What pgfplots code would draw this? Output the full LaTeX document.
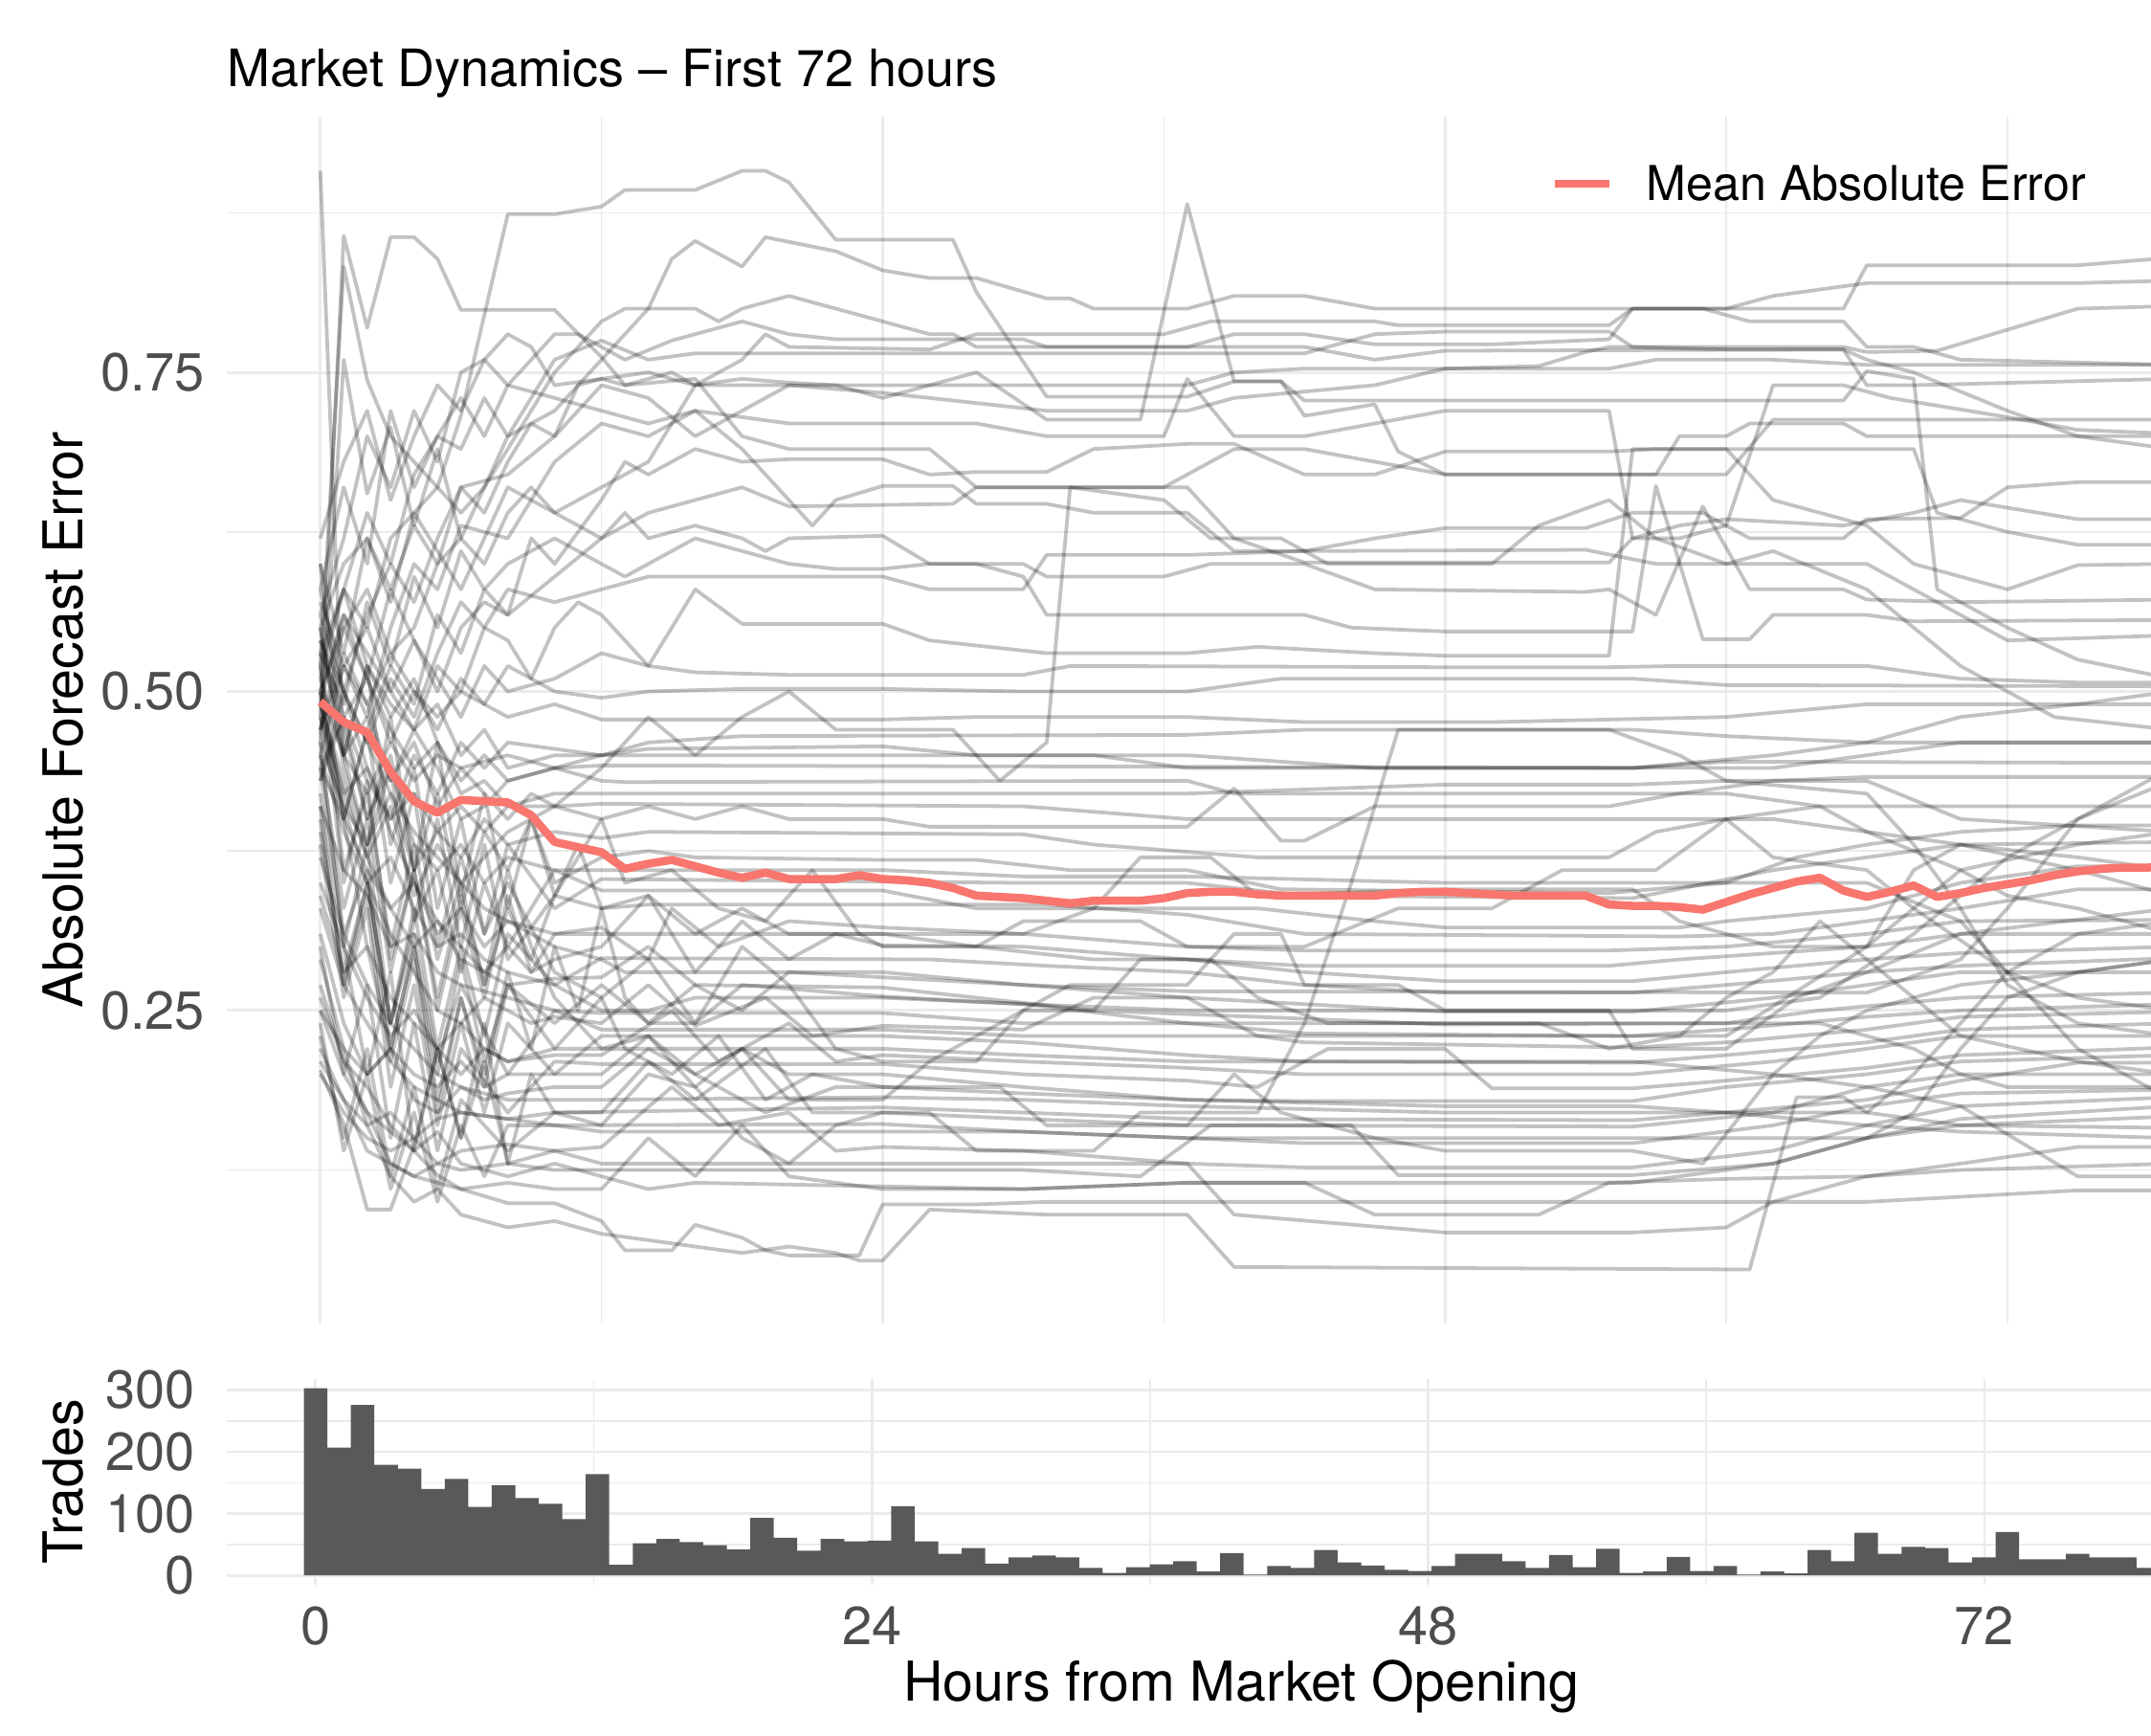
\documentclass[border=0pt]{standalone}
\usepackage{pgfplots}
\pgfplotsset{compat=1.18}
\usepackage{fontspec}
\setmainfont{TeX Gyre Heros}
\definecolor{g30}{HTML}{4D4D4D}
\definecolor{g92}{HTML}{EBEBEB}
\definecolor{barc}{HTML}{595959}
\definecolor{mae}{HTML}{F8766D}
\begin{document}
\begin{tikzpicture}[x=1cm,y=1cm]
\useasboundingbox (0,0) rectangle (15.68,12.65);
\pgfplotsset{
 gl/.style={black, opacity=0.24, line width=0.75pt, line join=round, forget plot},
 base/.style={scale only axis, width=14.03cm, axis line style={draw=none},
   major tick style={draw=none}, minor tick style={draw=none}, grid=both,
   major grid style={g92, line width=0.55pt}, minor grid style={g92, line width=0.3pt},
   tick label style={font=\fontsize{11.1pt}{13pt}\selectfont, text=g30},
   yticklabel style={anchor=east, inner sep=0pt, xshift=-0.15cm},
   xticklabel style={anchor=north, inner sep=0pt, yshift=-0.15cm}},
}
\begin{axis}[base, at={(1.65cm,3.00cm)}, anchor=south west, height=8.80cm,
  xmin=-4.01, xmax=78.13, ymin=0.0043, ymax=0.9505,
  xtick={0,24,48,72}, minor xtick={12,36,60}, xticklabels={},
  ytick={0.25,0.5,0.75}, yticklabels={0.25,0.50,0.75}, minor ytick={0.125,0.375,0.625,0.875}]
% ---- upper group
\addplot[gl] coordinates {(0,0.52)(1,0.58)(2,0.55)(3,0.62)(4,0.64)(5,0.66)(6,0.716)(8,0.874)(10,0.874)(12,0.88)(13,0.893)(16,0.893)(18,0.908)(19,0.908)(20,0.899)(22,0.854)(27,0.854)(28,0.813)(31,0.731)(37,0.731)(39,0.743)(41,0.743)(42,0.728)(65,0.728)(66,0.751)(68,0.745)(69,0.58)(72,0.55)(75,0.525)(79,0.51)};
\addplot[gl] coordinates {(0,0.50)(1,0.55)(2,0.58)(3,0.53)(4,0.55)(5,0.60)(6,0.62)(8,0.70)(10,0.72)(12,0.76)(14,0.80)(15,0.839)(16,0.853)(18,0.833)(19,0.856)(22,0.845)(24,0.83)(26,0.824)(28,0.824)(31,0.808)(32,0.808)(33,0.80)(37,0.80)(39,0.81)(42,0.81)(45,0.80)(65,0.80)(66,0.834)(75,0.834)(79,0.84)};
\addplot[gl] coordinates {(0,0.48)(1,0.857)(2,0.785)(3,0.856)(4,0.856)(5,0.839)(6,0.799)(10,0.799)(12,0.762)(13,0.74)(16,0.745)(18,0.70)(20,0.69)(26,0.69)(28,0.66)(36,0.66)(39,0.69)(42,0.69)(45,0.68)(48,0.67)(57,0.67)(58,0.70)(60,0.70)(61,0.71)(65,0.71)(66,0.70)(79,0.70)};
\addplot[gl] coordinates {(0,0.52)(1,0.833)(2,0.744)(3,0.70)(4,0.68)(5,0.66)(6,0.64)(7,0.66)(8,0.69)(10,0.75)(12,0.79)(13,0.80)(16,0.80)(17,0.79)(18,0.80)(20,0.81)(22,0.80)(24,0.79)(26,0.78)(27,0.78)(28,0.77)(37,0.77)(39,0.78)(42,0.78)(45,0.772)(50,0.772)(55,0.776)(56,0.80)(59,0.80)(61,0.79)(65,0.79)(66,0.77)(68,0.77)(70,0.76)(79,0.756)};
\addplot[gl] coordinates {(0,0.46)(1,0.76)(2,0.655)(3,0.707)(4,0.63)(5,0.69)(6,0.62)(7,0.60)(8,0.64)(9,0.66)(10,0.64)(12,0.66)(14,0.68)(16,0.74)(18,0.76)(19,0.78)(20,0.77)(26,0.768)(28,0.78)(36,0.78)(38,0.79)(45,0.79)(46,0.787)(55,0.787)(56,0.80)(60,0.80)(62,0.81)(66,0.82)(75,0.82)(79,0.822)};
\addplot[gl] coordinates {(0,0.54)(1,0.50)(2,0.56)(3,0.60)(4,0.57)(5,0.62)(6,0.66)(8,0.67)(10,0.70)(11,0.74)(12,0.745)(14,0.75)(16,0.74)(20,0.74)(24,0.734)(31,0.72)(37,0.72)(39,0.73)(45,0.74)(48,0.753)(52,0.755)(54,0.766)(55,0.77)(65,0.77)(66,0.766)(69,0.767)(75,0.80)(79,0.802)};
\addplot[gl] coordinates {(0,0.56)(1,0.62)(2,0.70)(3,0.66)(4,0.72)(5,0.68)(6,0.75)(7,0.76)(8,0.74)(10,0.78)(11,0.78)(12,0.77)(13,0.76)(15,0.775)(16,0.78)(18,0.79)(20,0.78)(22,0.776)(30,0.776)(31,0.77)(42,0.77)(45,0.76)(48,0.767)(65,0.768)(66,0.74)(68,0.74)(79,0.745)};
\addplot[gl] coordinates {(0,0.55)(1,0.60)(2,0.62)(3,0.58)(4,0.63)(5,0.60)(6,0.66)(7,0.64)(8,0.68)(9,0.71)(10,0.70)(12,0.74)(14,0.73)(16,0.70)(18,0.72)(20,0.74)(22,0.74)(24,0.73)(28,0.75)(31,0.713)(35,0.713)(37,0.882)(39,0.743)(41,0.743)(42,0.716)(45,0.725)(46,0.688)(48,0.670)(60,0.670)(62,0.713)(79,0.713)};
\addplot[gl] coordinates {(0,0.45)(1,0.52)(2,0.48)(3,0.55)(4,0.60)(5,0.58)(6,0.63)(8,0.62)(10,0.68)(12,0.71)(14,0.70)(15,0.71)(16,0.72)(18,0.69)(20,0.65)(21,0.63)(22,0.65)(24,0.661)(27,0.661)(28,0.647)(31,0.647)(33,0.64)(37,0.64)(39,0.61)(42,0.61)(45,0.62)(48,0.628)(54,0.628)(56,0.64)(59,0.64)(61,0.62)(65,0.62)(66,0.635)(70,0.636)(72,0.66)(75,0.664)(79,0.664)};
\addplot[gl] coordinates {(0,0.53)(1,0.49)(2,0.57)(3,0.52)(4,0.59)(5,0.55)(6,0.61)(7,0.58)(8,0.60)(10,0.62)(12,0.60)(13,0.59)(14,0.60)(16,0.62)(18,0.61)(20,0.60)(22,0.596)(24,0.596)(26,0.60)(28,0.60)(30,0.59)(31,0.56)(42,0.56)(44,0.55)(48,0.547)(56,0.547)(57,0.661)(59,0.541)(61,0.541)(62,0.56)(66,0.56)(68,0.555)(79,0.556)};
\addplot[gl] coordinates {(0,0.47)(1,0.55)(2,0.51)(3,0.58)(4,0.54)(5,0.50)(6,0.55)(7,0.57)(8,0.56)(10,0.59)(12,0.62)(13,0.64)(14,0.62)(16,0.63)(18,0.62)(19,0.61)(20,0.62)(24,0.622)(26,0.60)(30,0.60)(31,0.59)(36,0.59)(38,0.60)(42,0.60)(45,0.58)(54,0.578)(55,0.58)(57,0.56)(59,0.645)(61,0.58)(65,0.58)(66,0.572)(70,0.57)(79,0.572)};
\addplot[gl] coordinates {(0,0.51)(1,0.58)(2,0.64)(3,0.60)(4,0.67)(5,0.70)(6,0.69)(7,0.73)(8,0.70)(9,0.73)(10,0.76)(12,0.775)(14,0.76)(16,0.765)(42,0.765)(45,0.78)(48,0.782)(55,0.782)(56,0.77)(60,0.768)(65,0.768)(66,0.76)(68,0.75)(72,0.72)(75,0.70)(79,0.69)};
\addplot[gl] coordinates {(0,0.44)(1,0.40)(2,0.47)(3,0.52)(4,0.49)(5,0.56)(6,0.53)(7,0.58)(8,0.56)(9,0.62)(10,0.60)(12,0.65)(13,0.68)(14,0.67)(16,0.69)(18,0.68)(20,0.682)(24,0.682)(26,0.67)(28,0.672)(31,0.672)(33,0.69)(37,0.694)(39,0.694)(42,0.67)(45,0.67)(48,0.688)(55,0.688)(57,0.69)(68,0.69)(69,0.64)(72,0.625)(75,0.615)(79,0.615)};
\addplot[gl] coordinates {(0,0.58)(1,0.66)(2,0.60)(3,0.72)(4,0.66)(5,0.70)(6,0.73)(7,0.70)(8,0.74)(10,0.73)(12,0.72)(14,0.71)(16,0.72)(18,0.715)(20,0.71)(28,0.71)(31,0.70)(36,0.70)(37,0.745)(39,0.70)(42,0.70)(45,0.71)(48,0.72)(55,0.72)(56,0.62)(58,0.62)(60,0.63)(62,0.74)(65,0.74)(67,0.73)(72,0.715)(75,0.705)(79,0.702)};
\addplot[gl] coordinates {(0,0.50)(1,0.45)(2,0.52)(3,0.49)(4,0.47)(5,0.52)(6,0.50)(7,0.55)(8,0.54)(9,0.51)(10,0.55)(11,0.57)(12,0.56)(14,0.52)(16,0.58)(18,0.553)(24,0.553)(26,0.54)(31,0.53)(37,0.53)(40,0.535)(45,0.53)(48,0.528)(55,0.528)(56,0.69)(60,0.69)(62,0.65)(66,0.63)(68,0.60)(72,0.58)(75,0.599)(79,0.60)};
\addplot[gl] coordinates {(0,0.49)(1,0.56)(2,0.53)(3,0.50)(4,0.54)(5,0.51)(6,0.48)(7,0.52)(8,0.50)(10,0.51)(12,0.53)(14,0.52)(16,0.515)(20,0.513)(30,0.513)(32,0.52)(48,0.519)(55,0.519)(58,0.52)(66,0.52)(70,0.51)(75,0.507)(79,0.507)};
\addplot[gl] coordinates {(0,0.54)(1,0.48)(2,0.51)(3,0.46)(4,0.50)(5,0.47)(6,0.51)(7,0.49)(8,0.52)(10,0.50)(12,0.495)(14,0.50)(18,0.502)(24,0.502)(30,0.50)(37,0.50)(41,0.51)(56,0.51)(60,0.505)(79,0.504)};
\addplot[gl] coordinates {(0,0.60)(1,0.53)(2,0.62)(3,0.57)(4,0.64)(5,0.61)(6,0.58)(7,0.62)(8,0.66)(10,0.64)(12,0.62)(14,0.64)(16,0.65)(18,0.66)(20,0.645)(27,0.647)(28,0.66)(37,0.66)(39,0.62)(42,0.601)(55,0.601)(56,0.62)(58,0.63)(60,0.635)(65,0.63)(68,0.64)(70,0.65)(75,0.635)(79,0.635)};
\addplot[gl] coordinates {(0,0.43)(1,0.50)(2,0.46)(3,0.51)(4,0.48)(5,0.53)(6,0.57)(7,0.55)(8,0.58)(10,0.57)(12,0.58)(14,0.59)(24,0.59)(26,0.58)(30,0.58)(31,0.607)(37,0.607)(42,0.61)(54,0.611)(57,0.60)(66,0.60)(68,0.58)(70,0.56)(72,0.54)(79,0.544)};
\addplot[gl] coordinates {(0,0.62)(1,0.68)(2,0.72)(3,0.65)(4,0.70)(5,0.74)(6,0.72)(7,0.76)(8,0.78)(9,0.77)(10,0.74)(12,0.745)(13,0.74)(15,0.75)(16,0.74)(18,0.745)(20,0.742)(22,0.74)(37,0.74)(39,0.75)(42,0.753)(55,0.753)(57,0.76)(62,0.76)(66,0.756)(79,0.756)};
\addplot[gl] coordinates {(0,0.47)(1,0.52)(2,0.49)(3,0.53)(4,0.50)(5,0.48)(6,0.50)(8,0.48)(10,0.49)(12,0.478)(24,0.478)(28,0.48)(37,0.48)(42,0.476)(50,0.476)(60,0.48)(66,0.49)(79,0.49)};
\addplot[gl] coordinates {(0,0.49)(1,0.43)(2,0.37)(3,0.41)(4,0.34)(5,0.38)(6,0.35)(8,0.39)(10,0.41)(12,0.44)(14,0.48)(16,0.45)(18,0.48)(20,0.50)(22,0.47)(27,0.47)(29,0.43)(31,0.46)(32,0.66)(36,0.65)(38,0.62)(41,0.62)(43,0.60)(50,0.60)(52,0.63)(55,0.65)(57,0.62)(60,0.60)(62,0.61)(66,0.58)(70,0.52)(74,0.48)(79,0.47)};
% ---- lower group
\addplot[gl] coordinates {(0,0.908)(1,0.45)(2,0.42)(3,0.46)(4,0.43)(5,0.45)(6,0.44)(8,0.45)(10,0.44)(12,0.45)(14,0.46)(18,0.465)(37,0.466)(42,0.47)(56,0.47)(60,0.465)(66,0.46)(79,0.46)};
\addplot[gl] coordinates {(0,0.48)(1,0.42)(2,0.44)(3,0.40)(4,0.45)(5,0.42)(6,0.46)(7,0.44)(8,0.46)(10,0.455)(12,0.45)(14,0.455)(24,0.457)(28,0.45)(33,0.45)(37,0.44)(56,0.44)(60,0.445)(79,0.444)};
\addplot[gl] coordinates {(0,0.51)(1,0.45)(2,0.48)(3,0.43)(4,0.46)(5,0.41)(6,0.44)(7,0.42)(8,0.40)(9,0.42)(10,0.41)(12,0.40)(14,0.41)(16,0.40)(18,0.41)(20,0.40)(24,0.40)(26,0.394)(37,0.394)(39,0.424)(41,0.383)(42,0.383)(45,0.41)(55,0.41)(58,0.42)(62,0.43)(66,0.433)(79,0.433)};
\addplot[gl] coordinates {(0,0.46)(1,0.41)(2,0.38)(3,0.42)(4,0.36)(5,0.39)(6,0.37)(7,0.40)(8,0.38)(10,0.39)(12,0.385)(14,0.39)(30,0.388)(33,0.38)(40,0.37)(55,0.37)(57,0.39)(60,0.40)(64,0.41)(79,0.41)};
\addplot[gl] coordinates {(0,0.53)(1,0.47)(2,0.40)(3,0.45)(4,0.36)(5,0.42)(6,0.33)(7,0.39)(8,0.36)(9,0.40)(10,0.35)(12,0.37)(14,0.375)(16,0.37)(24,0.368)(28,0.368)(32,0.36)(37,0.36)(41,0.345)(55,0.342)(60,0.35)(63,0.37)(66,0.38)(70,0.39)(75,0.395)(79,0.395)};
\addplot[gl] coordinates {(0,0.50)(1,0.40)(2,0.47)(3,0.35)(4,0.42)(5,0.30)(6,0.37)(7,0.31)(8,0.38)(10,0.33)(12,0.353)(30,0.35)(37,0.35)(42,0.34)(56,0.338)(62,0.36)(66,0.37)(70,0.38)(79,0.382)};
\addplot[gl] coordinates {(0,0.55)(1,0.45)(2,0.38)(3,0.44)(4,0.32)(5,0.36)(6,0.28)(7,0.35)(8,0.30)(10,0.36)(12,0.344)(24,0.344)(28,0.33)(40,0.33)(45,0.32)(48,0.315)(58,0.315)(60,0.32)(66,0.33)(70,0.35)(75,0.363)(79,0.363)};
\addplot[gl] coordinates {(0,0.52)(1,0.36)(2,0.42)(3,0.30)(4,0.38)(5,0.29)(6,0.35)(7,0.27)(8,0.33)(9,0.29)(10,0.34)(12,0.33)(14,0.333)(31,0.333)(37,0.325)(42,0.31)(58,0.308)(62,0.31)(66,0.32)(70,0.33)(75,0.345)(79,0.345)};
\addplot[gl] coordinates {(0,0.47)(1,0.40)(2,0.36)(3,0.33)(4,0.35)(5,0.31)(6,0.33)(7,0.30)(8,0.32)(10,0.31)(12,0.315)(14,0.29)(15,0.33)(17,0.30)(20,0.32)(24,0.315)(30,0.31)(37,0.30)(42,0.297)(55,0.297)(60,0.30)(66,0.31)(70,0.32)(79,0.321)};
\addplot[gl] coordinates {(0,0.45)(1,0.33)(2,0.40)(3,0.28)(4,0.36)(5,0.25)(6,0.33)(7,0.26)(8,0.34)(9,0.28)(10,0.31)(24,0.31)(28,0.30)(33,0.29)(37,0.29)(42,0.285)(55,0.285)(58,0.29)(66,0.30)(70,0.31)(79,0.31)};
\addplot[gl] coordinates {(0,0.49)(1,0.42)(2,0.37)(3,0.33)(4,0.30)(5,0.32)(6,0.29)(7,0.28)(8,0.30)(9,0.28)(10,0.29)(12,0.30)(14,0.34)(16,0.28)(18,0.32)(20,0.29)(22,0.31)(24,0.301)(30,0.30)(37,0.29)(42,0.28)(48,0.273)(56,0.273)(60,0.28)(66,0.29)(70,0.295)(79,0.30)};
\addplot[gl] coordinates {(0,0.42)(1,0.30)(2,0.38)(3,0.24)(4,0.33)(5,0.22)(6,0.30)(7,0.23)(8,0.31)(10,0.27)(12,0.291)(26,0.29)(31,0.285)(37,0.28)(42,0.27)(48,0.264)(56,0.264)(60,0.27)(66,0.28)(70,0.285)(79,0.291)};
\addplot[gl] coordinates {(0,0.56)(1,0.50)(2,0.44)(3,0.39)(4,0.35)(5,0.32)(6,0.30)(7,0.28)(8,0.27)(10,0.275)(12,0.276)(14,0.30)(16,0.27)(18,0.25)(20,0.28)(24,0.276)(30,0.27)(37,0.26)(42,0.255)(48,0.249)(56,0.249)(62,0.26)(66,0.27)(70,0.28)(79,0.28)};
\addplot[gl] coordinates {(0,0.44)(1,0.31)(2,0.36)(3,0.22)(4,0.30)(5,0.20)(6,0.29)(7,0.21)(8,0.27)(10,0.24)(12,0.27)(14,0.24)(16,0.27)(24,0.268)(28,0.26)(33,0.25)(40,0.245)(48,0.239)(60,0.24)(64,0.25)(70,0.26)(79,0.264)};
\addplot[gl] coordinates {(0,0.40)(1,0.27)(2,0.34)(3,0.21)(4,0.29)(5,0.17)(6,0.26)(7,0.19)(8,0.27)(10,0.22)(12,0.26)(14,0.29)(16,0.24)(18,0.27)(24,0.261)(30,0.255)(37,0.24)(42,0.232)(56,0.230)(60,0.235)(66,0.245)(70,0.25)(79,0.255)};
\addplot[gl] coordinates {(0,0.48)(1,0.41)(2,0.35)(3,0.31)(4,0.28)(5,0.25)(6,0.24)(7,0.26)(8,0.25)(9,0.24)(10,0.245)(12,0.24)(14,0.27)(16,0.238)(19,0.26)(21,0.23)(24,0.238)(30,0.235)(33,0.26)(37,0.26)(40,0.23)(42,0.225)(56,0.221)(60,0.225)(66,0.235)(70,0.245)(79,0.249)};
\addplot[gl] coordinates {(0,0.38)(1,0.26)(2,0.33)(3,0.19)(4,0.27)(5,0.16)(6,0.24)(7,0.17)(8,0.24)(10,0.20)(12,0.23)(24,0.230)(30,0.225)(37,0.215)(42,0.21)(56,0.209)(60,0.215)(66,0.225)(70,0.235)(79,0.24)};
\addplot[gl] coordinates {(0,0.34)(1,0.28)(2,0.30)(3,0.26)(4,0.24)(5,0.22)(6,0.24)(7,0.22)(8,0.21)(10,0.215)(12,0.215)(15,0.25)(17,0.21)(20,0.24)(22,0.21)(24,0.215)(30,0.21)(37,0.205)(42,0.20)(56,0.200)(62,0.21)(66,0.22)(70,0.23)(79,0.23)};
\addplot[gl] coordinates {(0,0.30)(1,0.20)(2,0.27)(3,0.15)(4,0.24)(5,0.14)(6,0.22)(8,0.17)(10,0.21)(12,0.208)(24,0.208)(30,0.20)(37,0.195)(40,0.19)(43,0.22)(48,0.22)(50,0.189)(56,0.189)(60,0.195)(66,0.205)(70,0.215)(79,0.221)};
\addplot[gl] coordinates {(0,0.25)(1,0.22)(2,0.20)(3,0.22)(4,0.20)(5,0.19)(6,0.21)(7,0.19)(8,0.20)(12,0.20)(14,0.23)(16,0.19)(18,0.22)(20,0.20)(24,0.20)(30,0.19)(37,0.18)(42,0.179)(56,0.179)(60,0.19)(66,0.20)(70,0.21)(79,0.215)};
\addplot[gl] coordinates {(0,0.23)(1,0.15)(2,0.22)(3,0.12)(4,0.19)(5,0.11)(6,0.18)(8,0.14)(10,0.17)(24,0.174)(30,0.17)(37,0.165)(56,0.164)(60,0.17)(66,0.18)(70,0.195)(75,0.209)(79,0.209)};
\addplot[gl] coordinates {(0,0.21)(1,0.18)(2,0.16)(3,0.17)(4,0.15)(5,0.165)(6,0.17)(8,0.165)(10,0.17)(12,0.17)(14,0.21)(16,0.18)(19,0.22)(21,0.17)(24,0.170)(30,0.165)(37,0.16)(56,0.159)(62,0.17)(66,0.19)(70,0.20)(79,0.20)};
\addplot[gl] coordinates {(0,0.24)(1,0.14)(2,0.20)(3,0.11)(4,0.17)(5,0.10)(6,0.16)(7,0.12)(8,0.16)(10,0.16)(24,0.161)(30,0.155)(37,0.15)(42,0.146)(56,0.146)(62,0.16)(66,0.175)(70,0.185)(79,0.188)};
\addplot[gl] coordinates {(0,0.20)(1,0.17)(2,0.15)(3,0.14)(4,0.15)(5,0.13)(6,0.14)(8,0.145)(10,0.14)(12,0.143)(15,0.19)(17,0.16)(20,0.17)(22,0.14)(24,0.143)(30,0.14)(37,0.13)(42,0.127)(56,0.127)(62,0.14)(66,0.16)(70,0.175)(79,0.182)};
\addplot[gl] coordinates {(0,0.22)(1,0.18)(2,0.14)(3,0.13)(4,0.12)(5,0.13)(6,0.125)(8,0.13)(10,0.125)(30,0.125)(35,0.12)(38,0.16)(44,0.16)(46,0.121)(56,0.121)(62,0.13)(66,0.15)(70,0.165)(79,0.175)};
\addplot[gl] coordinates {(0,0.27)(1,0.21)(2,0.17)(3,0.13)(4,0.12)(5,0.115)(6,0.11)(8,0.115)(10,0.11)(12,0.11)(14,0.15)(16,0.12)(18,0.16)(20,0.12)(24,0.11)(30,0.11)(37,0.115)(56,0.115)(62,0.13)(66,0.15)(70,0.16)(79,0.167)};
\addplot[gl] coordinates {(0,0.25)(1,0.20)(2,0.17)(4,0.14)(5,0.121)(6,0.11)(8,0.099)(10,0.099)(12,0.085)(13,0.062)(15,0.062)(16,0.082)(18,0.072)(19,0.062)(20,0.058)(23,0.058)(24,0.098)(28,0.098)(31,0.10)(66,0.10)(75,0.109)(79,0.109)};
\addplot[gl] coordinates {(0,0.29)(1,0.22)(2,0.16)(3,0.12)(4,0.10)(5,0.11)(6,0.09)(8,0.08)(10,0.085)(12,0.075)(14,0.07)(16,0.065)(18,0.06)(20,0.065)(22,0.06)(23,0.054)(24,0.054)(26,0.094)(31,0.09)(37,0.09)(39,0.049)(61,0.047)(63,0.182)(65,0.182)(66,0.17)(70,0.16)(79,0.158)};
\addplot[gl] coordinates {(0,0.203)(1,0.161)(2,0.094)(3,0.094)(4,0.144)(5,0.22)(6,0.15)(7,0.21)(8,0.13)(10,0.14)(12,0.13)(37,0.13)(39,0.09)(48,0.076)(56,0.076)(60,0.08)(62,0.10)(66,0.12)(70,0.13)(75,0.143)(79,0.143)};
\addplot[gl] coordinates {(0,0.26)(1,0.21)(2,0.19)(3,0.16)(4,0.14)(5,0.155)(6,0.13)(8,0.12)(10,0.13)(12,0.12)(14,0.11)(16,0.115)(30,0.11)(37,0.115)(42,0.115)(45,0.09)(52,0.09)(55,0.115)(60,0.118)(66,0.12)(70,0.125)(79,0.13)};
\addplot[gl] coordinates {(0,0.31)(1,0.24)(2,0.20)(3,0.22)(4,0.18)(5,0.17)(6,0.19)(7,0.18)(8,0.185)(10,0.19)(12,0.19)(14,0.22)(16,0.20)(19,0.17)(22,0.19)(24,0.19)(30,0.185)(37,0.18)(48,0.175)(56,0.175)(60,0.17)(66,0.16)(70,0.155)(79,0.15)};
\addplot[gl] coordinates {(0,0.35)(1,0.30)(2,0.26)(3,0.23)(4,0.25)(5,0.22)(6,0.20)(7,0.22)(8,0.21)(10,0.22)(24,0.22)(30,0.215)(37,0.21)(56,0.21)(62,0.20)(66,0.19)(70,0.175)(75,0.12)(79,0.12)};
\addplot[gl] coordinates {(0,0.58)(1,0.50)(2,0.46)(3,0.42)(4,0.39)(5,0.37)(6,0.35)(7,0.33)(8,0.32)(10,0.30)(12,0.29)(13,0.28)(24,0.28)(30,0.27)(37,0.265)(66,0.264)(70,0.29)(72,0.33)(75,0.40)(79,0.43)};
\addplot[gl] coordinates {(0,0.39)(1,0.28)(2,0.35)(3,0.24)(4,0.31)(5,0.21)(6,0.27)(8,0.20)(10,0.25)(12,0.235)(24,0.235)(30,0.23)(60,0.23)(66,0.30)(68,0.36)(70,0.38)(75,0.36)(79,0.34)};
\addplot[gl] coordinates {(0,0.43)(1,0.48)(2,0.40)(3,0.44)(4,0.38)(5,0.36)(6,0.38)(7,0.35)(8,0.37)(10,0.36)(24,0.36)(30,0.355)(37,0.355)(48,0.35)(66,0.35)(70,0.32)(72,0.28)(75,0.22)(79,0.18)};
\addplot[gl] coordinates {(0,0.50)(1,0.56)(2,0.51)(3,0.47)(4,0.44)(5,0.46)(6,0.42)(7,0.43)(8,0.41)(10,0.42)(37,0.42)(48,0.427)(56,0.427)(60,0.43)(66,0.42)(68,0.38)(70,0.33)(72,0.27)(75,0.24)(79,0.23)};
\addplot[gl] coordinates {(0,0.45)(1,0.39)(2,0.35)(3,0.37)(4,0.33)(5,0.30)(6,0.31)(7,0.29)(8,0.28)(10,0.27)(12,0.25)(14,0.25)(16,0.26)(24,0.26)(30,0.255)(37,0.25)(60,0.25)(64,0.26)(68,0.31)(70,0.34)(72,0.37)(75,0.40)(79,0.44)};
\addplot[gl] coordinates {(0,0.41)(1,0.36)(2,0.34)(3,0.30)(4,0.31)(5,0.28)(6,0.27)(8,0.26)(10,0.25)(12,0.248)(24,0.248)(30,0.24)(64,0.24)(68,0.22)(70,0.20)(72,0.19)(79,0.19)};
\addplot[gl] coordinates {(0,0.37)(1,0.31)(2,0.27)(3,0.24)(4,0.22)(5,0.20)(6,0.19)(8,0.18)(12,0.18)(24,0.182)(30,0.18)(37,0.175)(48,0.17)(66,0.17)(68,0.20)(70,0.24)(72,0.28)(75,0.31)(79,0.32)};
\addplot[gl] coordinates {(0,0.33)(1,0.27)(2,0.24)(3,0.21)(4,0.19)(5,0.18)(6,0.17)(8,0.165)(10,0.16)(12,0.155)(30,0.155)(37,0.15)(66,0.15)(68,0.17)(70,0.22)(72,0.26)(75,0.28)(79,0.29)};
\addplot[gl] coordinates {(0,0.47)(1,0.53)(2,0.49)(3,0.43)(4,0.47)(5,0.44)(6,0.40)(7,0.41)(8,0.43)(10,0.44)(12,0.43)(13,0.429)(37,0.43)(39,0.42)(60,0.42)(64,0.41)(66,0.39)(70,0.36)(72,0.34)(75,0.33)(79,0.31)};
\addplot[gl] coordinates {(0,0.53)(1,0.58)(2,0.52)(3,0.48)(4,0.51)(5,0.46)(6,0.43)(7,0.45)(8,0.43)(10,0.44)(12,0.442)(62,0.44)(66,0.45)(70,0.46)(79,0.46)};
\addplot[gl] coordinates {(0,0.57)(1,0.52)(2,0.55)(3,0.50)(4,0.47)(5,0.49)(6,0.45)(7,0.47)(8,0.44)(10,0.45)(37,0.45)(45,0.44)(56,0.44)(62,0.45)(66,0.46)(70,0.48)(75,0.49)(79,0.50)};
\addplot[gl] coordinates {(0,0.44)(1,0.48)(2,0.43)(3,0.40)(4,0.42)(5,0.39)(6,0.41)(7,0.39)(8,0.41)(10,0.41)(12,0.412)(30,0.41)(37,0.40)(62,0.40)(66,0.39)(70,0.38)(75,0.37)(79,0.36)};
% ---- extra irregular lines
\addplot[gl] coordinates {(0,0.52)(1,0.40)(2,0.30)(3,0.22)(4,0.30)(5,0.18)(6,0.26)(7,0.20)(8,0.28)(9,0.22)(10,0.30)(11,0.25)(12,0.33)(13,0.26)(14,0.24)(16,0.24)(18,0.30)(20,0.27)(22,0.22)(24,0.21)(28,0.21)(30,0.25)(32,0.27)(37,0.27)(39,0.31)(41,0.31)(42,0.27)(46,0.27)(48,0.25)(55,0.25)(56,0.22)(60,0.22)(63,0.26)(66,0.28)(70,0.31)(79,0.33)};
\addplot[gl] coordinates {(0,0.46)(1,0.30)(2,0.20)(3,0.28)(4,0.14)(5,0.22)(6,0.15)(7,0.24)(8,0.13)(9,0.20)(10,0.17)(12,0.16)(14,0.20)(16,0.19)(18,0.15)(20,0.13)(22,0.16)(24,0.17)(26,0.17)(28,0.14)(33,0.14)(35,0.17)(40,0.17)(42,0.24)(44,0.35)(46,0.47)(48,0.47)(55,0.47)(58,0.45)(60,0.43)(66,0.43)(70,0.40)(79,0.39)};
\addplot[gl] coordinates {(0,0.50)(1,0.35)(2,0.43)(3,0.29)(4,0.36)(5,0.26)(6,0.34)(7,0.27)(8,0.36)(9,0.30)(10,0.26)(12,0.22)(14,0.23)(16,0.20)(18,0.22)(20,0.18)(24,0.18)(26,0.21)(30,0.25)(33,0.25)(35,0.29)(38,0.29)(40,0.26)(43,0.24)(52,0.24)(55,0.22)(58,0.23)(60,0.26)(62,0.28)(64,0.32)(66,0.29)(68,0.26)(70,0.23)(75,0.21)(79,0.20)};
\addplot[gl] coordinates {(0,0.41)(1,0.27)(2,0.35)(3,0.24)(4,0.32)(5,0.40)(6,0.30)(7,0.38)(8,0.29)(10,0.34)(12,0.40)(13,0.35)(15,0.36)(17,0.33)(19,0.32)(21,0.36)(23,0.31)(24,0.30)(28,0.30)(30,0.32)(35,0.32)(37,0.30)(42,0.30)(46,0.33)(50,0.33)(53,0.36)(57,0.36)(60,0.40)(62,0.37)(66,0.36)(68,0.33)(72,0.28)(75,0.26)(79,0.25)};
\addplot[gl] coordinates {(0,0.60)(1,0.45)(2,0.52)(3,0.38)(4,0.44)(5,0.33)(6,0.40)(7,0.31)(8,0.35)(10,0.28)(12,0.26)(13,0.22)(15,0.20)(17,0.23)(19,0.18)(21,0.20)(24,0.19)(29,0.19)(31,0.16)(37,0.16)(39,0.20)(41,0.17)(45,0.15)(48,0.14)(56,0.14)(59,0.13)(62,0.20)(64,0.23)(66,0.25)(70,0.27)(75,0.28)(79,0.29)};
\addplot[gl] coordinates {(0,0.55)(1,0.44)(2,0.38)(3,0.48)(4,0.36)(5,0.46)(6,0.34)(7,0.42)(8,0.33)(9,0.40)(10,0.34)(11,0.38)(12,0.33)(14,0.34)(16,0.31)(18,0.33)(20,0.31)(30,0.31)(33,0.33)(35,0.37)(38,0.37)(40,0.34)(48,0.345)(56,0.345)(58,0.32)(62,0.30)(66,0.30)(68,0.33)(70,0.36)(75,0.38)(79,0.39)};
% ---- mean absolute error
\addplot[mae, line width=1.7pt, line join=round] coordinates {(0,0.492)(1,0.476)(2,0.468)(3,0.437)(4,0.414)(5,0.405)(6,0.415)(7,0.414)(8,0.413)(9,0.403)(10,0.382)(11,0.378)(12,0.374)(13,0.361)(14,0.365)(15,0.368)(16,0.363)(17,0.358)(18,0.354)(19,0.358)(20,0.353)(21,0.353)(22,0.353)(23,0.356)(24,0.353)(25,0.352)(26,0.350)(27,0.346)(28,0.340)(29,0.339)(30,0.338)(31,0.336)(32,0.334)(33,0.336)(34,0.336)(35,0.336)(36,0.338)(37,0.342)(38,0.343)(39,0.343)(40,0.341)(41,0.340)(42,0.340)(43,0.340)(44,0.340)(45,0.340)(46,0.342)(47,0.343)(48,0.343)(49,0.342)(50,0.341)(51,0.340)(52,0.340)(53,0.340)(54,0.340)(55,0.333)(56,0.332)(57,0.332)(58,0.331)(59,0.329)(60,0.335)(61,0.341)(62,0.346)(63,0.351)(64,0.354)(65,0.344)(66,0.339)(67,0.343)(68,0.348)(69,0.339)(70,0.342)(71,0.346)(72,0.349)(73,0.352)(74,0.356)(75,0.359)(76,0.361)(77,0.362)(78,0.362)(79,0.363)};
\end{axis}
\begin{axis}[base, at={(1.65cm,1.10cm)}, anchor=south west, height=1.50cm,
  xmin=-3.85, xmax=79.19, ymin=-15.15, ymax=318.2,
  yticklabel style={xshift=-0.07cm},
  xtick={0,24,48,72}, xticklabels={0,24,48,72}, minor xtick={12,36,60},
  ytick={0,100,200,300}, yticklabels={0,100,200,300}, minor ytick={50,150,250}]
\addplot[ybar, bar width=1.0137, bar shift=0pt, fill=barc, draw=none] coordinates {
(0,303)(1.014,207)(2.027,276)(3.041,179)(4.055,173)(5.069,140)(6.082,156)(7.096,111)(8.110,146)(9.123,125)
(10.137,116)(11.151,91)(12.164,164)(13.178,17)(14.192,52)(15.206,59)(16.219,54)(17.233,49)(18.247,42)(19.260,93)
(20.274,61)(21.288,40)(22.301,59)(23.315,55)(24.329,56)(25.343,112)(26.356,55)(27.370,35)(28.384,44)(29.397,19)
(30.411,29)(31.425,32)(32.438,29)(33.452,12)(34.466,4)(35.480,13)(36.493,18)(37.507,23)(38.521,6)(39.534,36)
(40.548,1)(41.562,15)(42.575,12)(43.589,41)(44.603,21)(45.617,16)(46.630,9)(47.644,7)(48.658,15)(49.671,35)
(50.685,35)(51.699,23)(52.712,12)(53.726,33)(54.740,13)(55.754,43)(56.767,4)(57.781,6)(58.795,30)(59.808,7)
(60.822,15)(61.836,1)(62.849,6)(63.863,3)(64.877,41)(65.891,23)(66.904,69)(67.918,35)(68.932,46)(69.945,44)
(70.959,21)(71.973,29)(72.986,70)(74.000,26)(75.014,26)(76.028,35)(77.041,29)(78.055,29)(79.069,12)};
\end{axis}
% titles and legend
\node[anchor=base west, inner sep=0pt, font=\fontsize{10.7pt}{12pt}\selectfont] at (1.65,12.02) {Market Dynamics – First 72 hours};
\draw[mae, line width=1.7pt] (11.335,11.31) -- (11.73,11.31);
\node[anchor=base west, inner sep=0pt, font=\fontsize{9.96pt}{12pt}\selectfont] at (11.994,11.19) {Mean Absolute Error};
\node[anchor=base, inner sep=0pt, font=\fontsize{11.38pt}{13pt}\selectfont] at (9.05,0.25) {Hours from Market Opening};
\node[anchor=base, rotate=90, inner sep=0pt, font=\fontsize{11.38pt}{13pt}\selectfont] at (0.60,7.40) {Absolute Forecast Error};
\node[anchor=base, rotate=90, inner sep=0pt, font=\fontsize{11.38pt}{13pt}\selectfont] at (0.60,1.85) {Trades};
\end{tikzpicture}
\end{document}
